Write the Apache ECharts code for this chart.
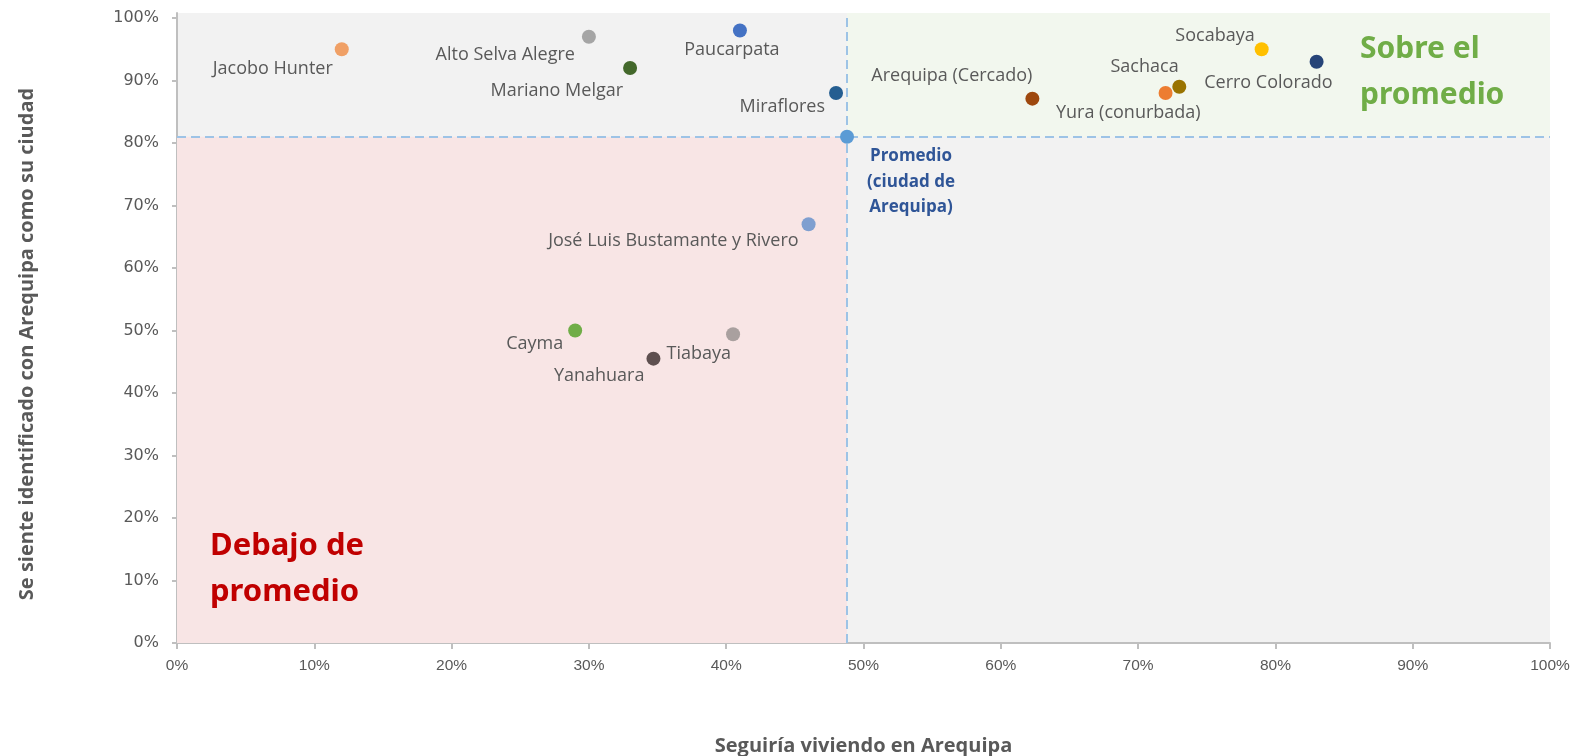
<!DOCTYPE html>
<html>
<head>
<meta charset="utf-8">
<script src="https://cdn.jsdelivr.net/npm/echarts@6/dist/echarts.min.js"></script>
<style>html,body{margin:0;padding:0;background:#fff;}#c{width:1575px;height:756px;}</style>
</head>
<body>
<div id="c"></div>
<script>
// ---- data ----
const districts = ['Jacobo Hunter','Alto Selva Alegre','Paucarpata','Mariano Melgar','Miraflores','Arequipa (Cercado)','Sachaca','Yura (conurbada)','Socabaya','Cerro Colorado','José Luis Bustamante y Rivero','Cayma','Tiabaya','Yanahuara'];
const seguiria = [12, 30, 41, 33, 48, 62.3, 72, 73, 79, 83, 46, 29, 40.5, 34.7];
const identificado = [95, 97, 98, 92, 88, 87.1, 88, 89, 95, 93, 67, 50, 49.4, 45.5];
const promedioName = 'Promedio\n(ciudad de\nArequipa)';
const promedioX = 48.8;
const promedioY = 81;
const tickValues = [0, 10, 20, 30, 40, 50, 60, 70, 80, 90, 100];
const tickLabels = ['0%','10%','20%','30%','40%','50%','60%','70%','80%','90%','100%'];

// ---- styles (not data) ----
const colors = ['#f0a066','#a5a5a5','#4472c4','#43682b','#255e91','#9e480e','#ed7d31','#997300','#ffc000','#264478','#7f9fd0','#70ad47','#a9a09f','#5e4f4f'];
const labelStyles = [
  {align:'right', offset:[-9,20]},
  {align:'right', offset:[-14,18]},
  {align:'center', offset:[-8,19]},
  {align:'right', offset:[-7,23]},
  {align:'right', offset:[-11,14]},
  {align:'right', offset:[0,-23]},
  {align:'center', offset:[-21,-26]},
  {align:'center', offset:[-51,26]},
  {align:'right', offset:[-7,-13]},
  {align:'right', offset:[16,21]},
  {align:'right', offset:[-10,17]},
  {align:'right', offset:[-12,13]},
  {align:'right', offset:[-2,20]},
  {align:'right', offset:[-9,17]}
];

const FONT = '"Open Sans", "Noto Sans", sans-serif';
const pointData = districts.map((n, i) => ({
  name: n,
  value: [seguiria[i], identificado[i]],
  itemStyle: {color: colors[i], opacity: 1},
  label: {show: true, position: 'inside', formatter: n, align: labelStyles[i].align, verticalAlign: 'middle',
          offset: labelStyles[i].offset, color: '#595959', fontSize: 18, fontFamily: FONT}
}));
pointData.push({
  name: 'Promedio',
  value: [promedioX, promedioY],
  itemStyle: {color: '#5b9bd5', opacity: 1},
  label: {show: true, position: 'inside', formatter: promedioName, align: 'center', verticalAlign: 'middle',
          offset: [64, 45], color: '#2f5597', fontSize: 17, fontWeight: 'bold', lineHeight: 25.5, fontFamily: FONT}
});

const fmt = v => tickLabels[tickValues.indexOf(Math.round(v))] || '';
const chart = echarts.init(document.getElementById('c'), null, {renderer: 'canvas'});
chart.setOption({
  animation: false,
  backgroundColor: '#ffffff',
  grid: {left: 177, right: 25, top: 13, bottom: 113, show: true, backgroundColor: '#f2f2f2', borderWidth: 0,
    outerBoundsMode: 'none', containLabel: false},
  xAxis: {
    type: 'value', min: 0, max: 100, interval: 10,
    name: 'Seguiría viviendo en Arequipa', nameLocation: 'middle', nameGap: 93,
    nameTextStyle: {color: '#595959', fontSize: 20, fontWeight: 'bold', fontFamily: FONT},
    axisLine: {show: true, lineStyle: {color: '#bfbfbf', width: 2}},
    axisTick: {show: true, length: 6, lineStyle: {color: '#bfbfbf', width: 2}},
    splitLine: {show: false},
    axisLabel: {color: '#595959', fontSize: 15.5, margin: 15, fontFamily: '"Liberation Sans", sans-serif', formatter: fmt}
  },
  yAxis: {
    type: 'value', min: 0, max: 100.8,
    axisLine: {show: true, lineStyle: {color: '#bfbfbf', width: 2}},
    axisTick: {show: true, length: 5, lineStyle: {color: '#bfbfbf', width: 2}, customValues: tickValues},
    splitLine: {show: false},
    axisLabel: {color: '#595959', fontSize: 16, margin: 18, fontFamily: '"DejaVu Sans", sans-serif',
      customValues: tickValues, formatter: fmt}
  },
  series: [{
    type: 'scatter',
    symbolSize: 14,
    data: pointData,
    z: 5,
    markArea: {
      silent: true,
      data: [
        [{coord: [0, 0], itemStyle: {color: '#f8e5e5'}}, {coord: [promedioX, promedioY]}],
        [{coord: [promedioX, promedioY], itemStyle: {color: '#f2f7ee'}}, {coord: [100, 100.8]}]
      ]
    },
    markLine: {
      silent: true, symbol: 'none', label: {show: false},
      lineStyle: {color: '#9dc3e6', width: 2, type: [9, 5]},
      data: [{xAxis: promedioX}, {yAxis: promedioY}]
    }
  }],
  graphic: [
    {type: 'text', x: 27, y: 344, rotation: Math.PI / 2,
      style: {text: 'Se siente identificado con Arequipa como su ciudad', align: 'center', verticalAlign: 'middle',
        fill: '#595959', font: 'bold 20px "Open Sans", sans-serif'}, z: 10},
    {type: 'text', left: 1440 - 80, top: 26, style: {text: 'Sobre el\npromedio', width: 160, align: 'center',
      fill: '#70ad47', font: 'bold 30px "Noto Sans", sans-serif', lineHeight: 46}, z: 10},
    {type: 'text', left: 295 - 85, top: 523, style: {text: 'Debajo de\npromedio', width: 170, align: 'center',
      fill: '#c00000', font: 'bold 31px "Noto Sans", sans-serif', lineHeight: 46}, z: 10}
  ]
});
</script>
</body>
</html>
